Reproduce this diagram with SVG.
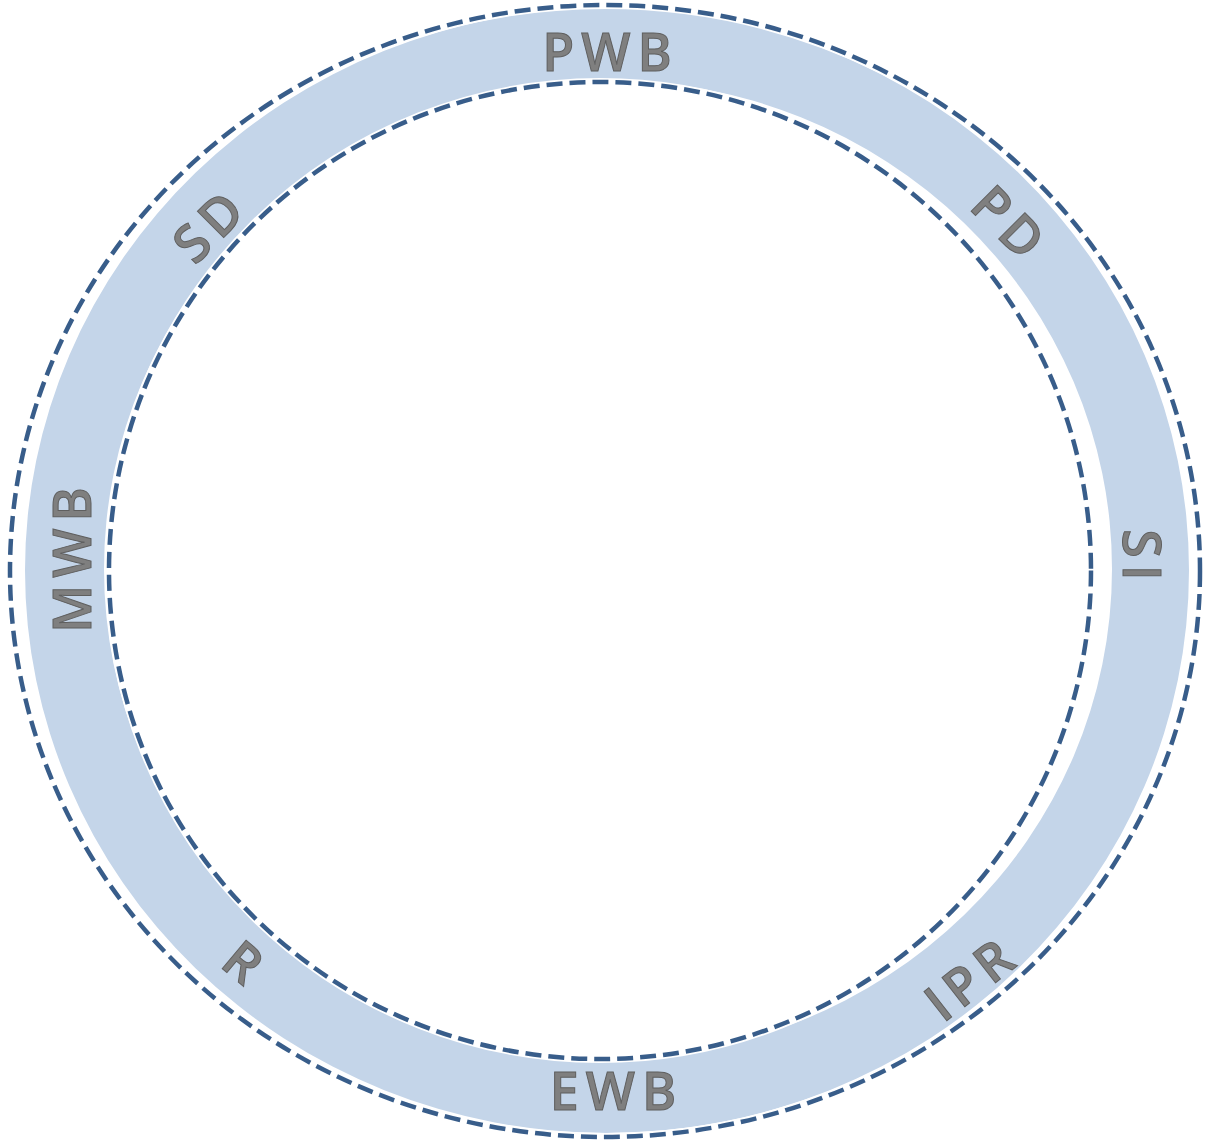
<svg xmlns="http://www.w3.org/2000/svg" width="1209" height="1145" viewBox="0 0 1209 1145">
  <defs>
    <style>
      .ring { fill: #c4d5e9; fill-rule: evenodd; }
      .halo { fill: none; stroke: #ffffff; stroke-width: 8; }
      .dash { fill: none; stroke: #385d8a; stroke-width: 4.5; stroke-dasharray: 16 7; }
      .lbl { font-family: "Open Sans", "Liberation Sans", sans-serif; font-weight: 600; font-size: 52px; fill: #7f7f7f; stroke: #5f5f5f; stroke-width: 1; text-anchor: middle; letter-spacing: 7px; }
    </style>
  </defs>
  <rect width="1209" height="1145" fill="#ffffff"/>
  <g id="ring">
    <path class="ring" d="M25,570.5 A582,562.5 0 1,0 1189,570.5 A582,562.5 0 1,0 25,570.5 Z M104,569 A504,489 0 1,1 1112,569 A504,489 0 1,1 104,569 Z"/>
  </g>
  <g id="connectors">
    <ellipse class="halo" cx="605" cy="571" rx="595" ry="566"/>
    <ellipse class="halo" cx="600" cy="570.5" rx="491" ry="488.5"/>
    <ellipse class="dash" cx="605" cy="571" rx="595" ry="566"/>
    <ellipse class="dash" cx="600" cy="570.5" rx="491" ry="488.5"/>
  </g>
  <g id="PWB"><text class="lbl" transform="translate(607,52)" x="3.5" y="18.5">PWB</text></g>
  <g id="PD"><text class="lbl" transform="translate(1008,222) rotate(45)" x="3.5" y="18.5">PD</text></g>
  <g id="SI"><text class="lbl" transform="translate(1141,555) rotate(90)" x="3.5" y="18.5">SI</text></g>
  <g id="IPR"><text class="lbl" transform="translate(969,980) rotate(-38)" x="3.5" y="18.5">IPR</text></g>
  <g id="EWB"><text class="lbl" transform="translate(613,1091)" x="3.5" y="18.5">EWB</text></g>
  <g id="R"><text class="lbl" transform="translate(243,962) rotate(40)" x="3.5" y="18.5">R</text></g>
  <g id="MWB"><text class="lbl" transform="translate(72,560) rotate(-90)" x="3.5" y="18.5">MWB</text></g>
  <g id="SD"><text class="lbl" transform="translate(208,227) rotate(-45)" x="3.5" y="18.5">SD</text></g>
</svg>
